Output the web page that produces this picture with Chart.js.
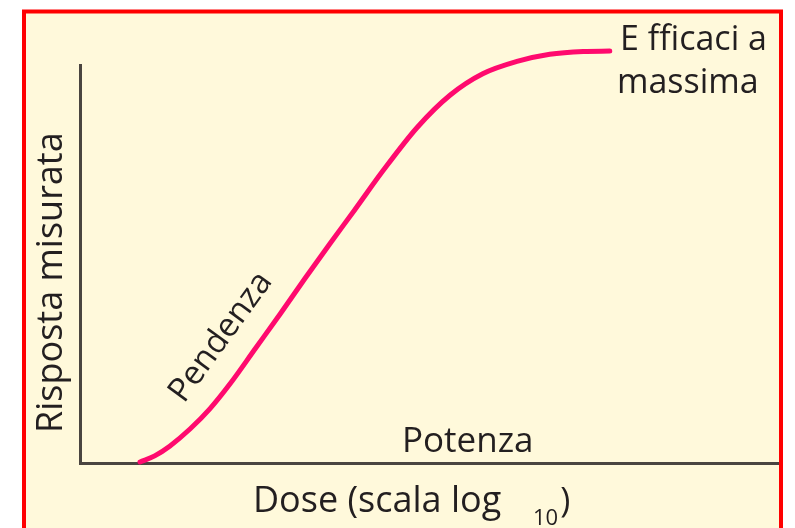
<!DOCTYPE html>
<html>
<head>
<meta charset="utf-8">
<style>
  html, body { margin: 0; padding: 0; background: #ffffff; }
  canvas { display: block; }
</style>
<script src="https://cdn.jsdelivr.net/npm/chart.js@4.4.1/dist/chart.umd.min.js"></script>
</head>
<body>
<canvas id="curve" width="795" height="528"></canvas>
<script>
// Dose–response curve: log10 dose on x, measured response on y
const logDose  = [0.86, 1.07, 1.29, 1.58, 1.86, 2.15, 2.51, 2.87, 3.22, 3.58, 3.94, 4.34, 4.83, 5.30, 5.77, 6.26, 6.73, 7.21, 7.59];
const response = [0.25, 1.8, 4.3, 8.6, 13.6, 19.9, 28.7, 37.5, 46.3, 55.1, 63.7, 73.4, 84.3, 92.4, 97.8, 100.9, 102.7, 103.4, 103.5];

const xTitle = 'Dose (scala log';
const xTitleSub = '10';
const yTitle = 'Risposta misurata';
const plateauLabel = ['E fficaci a', 'massima'];
const slopeLabel = 'Pendenza';
const potencyLabel = 'Potenza';

const FONT = '"Open Sans", "Liberation Sans", sans-serif';
const INK = '#231f20';
const PAPER = '#fff9db';
const FRAME = '#ff0000';
const CURVE = '#ff0a6e';
const AXIS = '#4a4540';

// paper background and red frame
const framePlugin = {
  id: 'frame',
  beforeDraw(chart) {
    const ctx = chart.ctx;
    ctx.save();
    ctx.fillStyle = '#ffffff';
    ctx.fillRect(0, 0, chart.width, chart.height);
    ctx.fillStyle = PAPER;
    ctx.fillRect(24, 11, 757, chart.height);
    ctx.strokeStyle = FRAME;
    ctx.lineWidth = 4;
    ctx.beginPath();
    ctx.moveTo(24, chart.height + 5);
    ctx.lineTo(24, 11.5);
    ctx.lineTo(781, 11.5);
    ctx.lineTo(781, chart.height + 5);
    ctx.stroke();
    ctx.restore();
  }
};

// annotation texts
const labelPlugin = {
  id: 'labels',
  afterDraw(chart) {
    const ctx = chart.ctx;
    ctx.save();
    ctx.fillStyle = INK;
    ctx.textAlign = 'left';
    ctx.textBaseline = 'alphabetic';

    ctx.font = '34px ' + FONT;
    ctx.fillText(plateauLabel[0], 620, 50);
    ctx.fillText(plateauLabel[1], 617, 93);

    ctx.font = '35px ' + FONT;
    ctx.fillText(potencyLabel, 402, 452);

    ctx.font = '36px ' + FONT;
    ctx.fillText(xTitle, 253, 512);
    ctx.font = '22px ' + FONT;
    ctx.fillText(xTitleSub, 533, 525);
    const ws = ctx.measureText(xTitleSub).width;
    ctx.font = '34px ' + FONT;
    ctx.fillText(')', 533 + ws + 2, 512);

    ctx.save();
    ctx.translate(62, 433);
    ctx.rotate(-Math.PI / 2);
    ctx.font = '36px ' + FONT;
    ctx.fillText(yTitle, 0, 0);
    ctx.restore();

    ctx.save();
    ctx.translate(184, 404);
    ctx.rotate(-54 * Math.PI / 180);
    ctx.font = '33px ' + FONT;
    ctx.fillText(slopeLabel, 0, 0);
    ctx.restore();

    ctx.restore();
  }
};

function build() {
  new Chart(document.getElementById('curve'), {
    type: 'line',
    data: {
      datasets: [{
        data: logDose.map((x, i) => ({ x, y: response[i] })),
        borderColor: CURVE,
        borderWidth: 5,
        borderCapStyle: 'round',
        pointRadius: 0,
        cubicInterpolationMode: 'monotone',
        fill: false,
        clip: false
      }]
    },
    options: {
      responsive: false,
      devicePixelRatio: 1,
      animation: false,
      layout: { padding: { left: 72, right: 17, top: 65, bottom: 57 } },
      plugins: { legend: { display: false }, tooltip: { enabled: false } },
      scales: {
        x: {
          type: 'linear', min: 0, max: 10,
          grid: { display: false },
          ticks: { display: false },
          border: { display: true, color: AXIS, width: 3 }
        },
        y: {
          type: 'linear', min: 0, max: 100,
          grid: { display: false },
          ticks: { display: false },
          border: { display: true, color: AXIS, width: 3 }
        }
      }
    },
    plugins: [framePlugin, labelPlugin]
  });
}

if (document.fonts && document.fonts.load) {
  Promise.all([
    document.fonts.load('34px "Open Sans"'),
    document.fonts.load('22px "Open Sans"')
  ]).then(build, build);
} else {
  build();
}
</script>
</body>
</html>
